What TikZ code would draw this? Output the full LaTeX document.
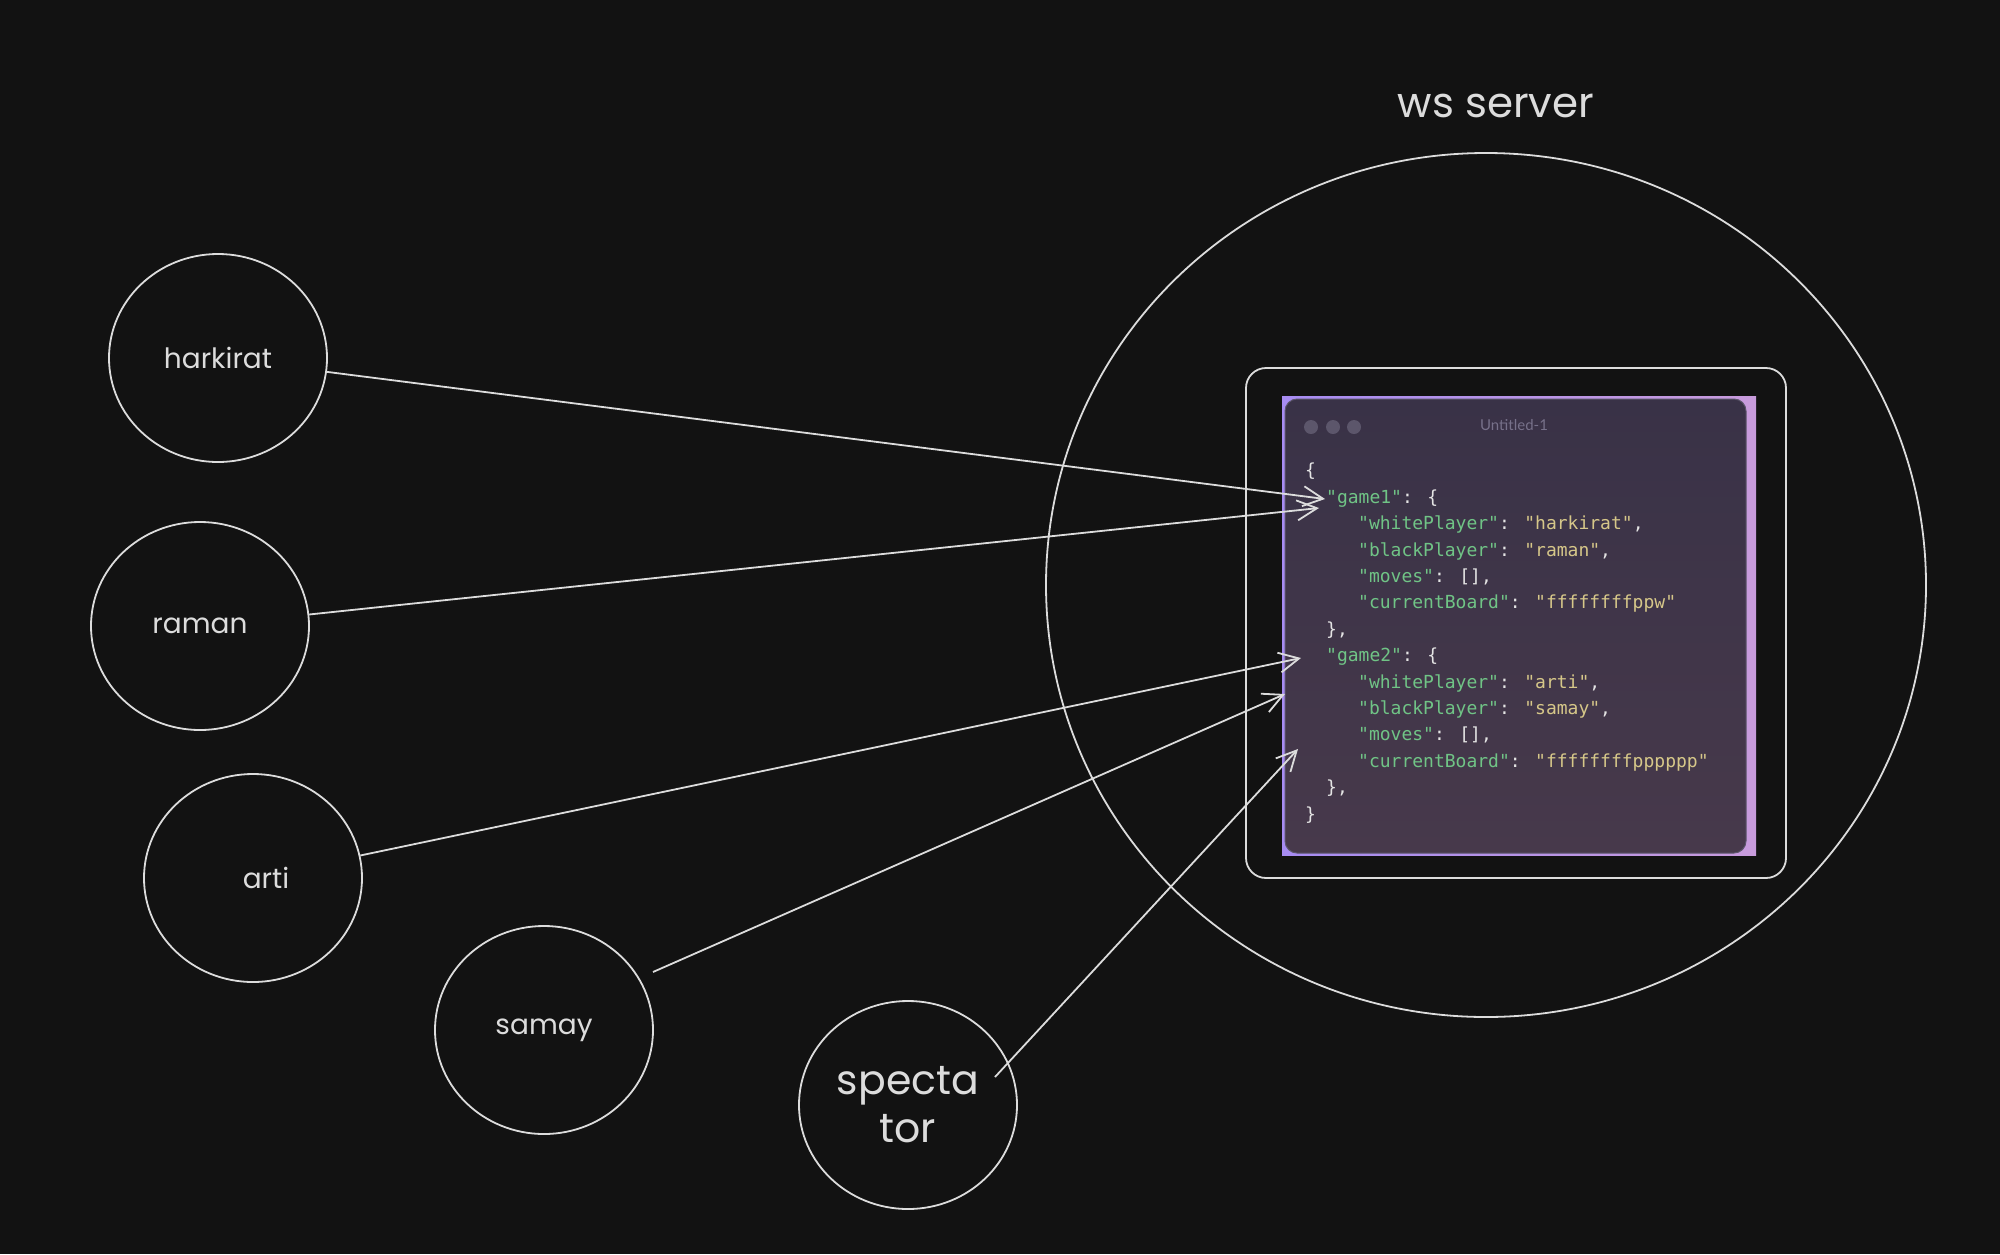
\documentclass[tikz,border=0pt]{standalone}
\usepackage{fontspec}
\usetikzlibrary{arrows.meta,positioning,shapes.geometric}
\setmainfont{Poppins}
\newfontfamily\codefont{DejaVu Sans Mono}
\newfontfamily\uifont{Lato}
\definecolor{bgdark}{HTML}{121212}
\definecolor{inkwhite}{HTML}{DCDCDC}
\definecolor{codegreen}{RGB}{112,196,134}
\definecolor{codetan}{RGB}{214,199,137}
\definecolor{codepunct}{HTML}{E4E4E4}
\definecolor{panelA}{HTML}{393247}
\definecolor{panelB}{HTML}{47394B}
\definecolor{lilacA}{HTML}{A78CF2}
\definecolor{lilacB}{HTML}{C89BDC}
\definecolor{dotgray}{HTML}{5C566B}
\definecolor{titlegray}{HTML}{77718A}
\newcommand\ky[1]{\textcolor{codegreen}{"#1"}}
\newcommand\sv[1]{\textcolor{codetan}{"#1"}}
\newcommand\ind[1]{\hspace*{#1pt}}

\begin{document}
\begin{tikzpicture}[x=1pt,y=-1pt,
  player/.style={draw=inkwhite, line width=1.8pt, ellipse, inner sep=0pt,
    minimum width=218pt, minimum height=208pt, text=inkwhite,
    font=\fontsize{28}{32}\selectfont},
  arr/.style={-{Straight Barb[length=20pt,width=20pt]}, line width=1.8pt, inkwhite}]
\fill[bgdark] (0,0) rectangle (2000,1254);
\useasboundingbox (0,0) rectangle (2000,1254);
% Server
\node[draw=inkwhite, line width=1.8pt, ellipse, minimum width=880pt,
  minimum height=864pt] (server) at (1486,585) {};
\node[text=inkwhite, font=\fontsize{42}{48}\selectfont] (wslabel) at (1496,106) {ws server};
\node[draw=inkwhite, line width=1.8pt, rounded corners=20pt,
  minimum width=540pt, minimum height=510pt] (frame) at (1516,623) {};
% Editor window
\node[left color=lilacA, right color=lilacB, minimum width=474pt,
  minimum height=459pt, inner sep=0pt] (lilac) at (1519,625.5) {};
\node[top color=panelA, bottom color=panelB, draw=dotgray, line width=1pt,
  rounded corners=12pt, minimum width=461pt, minimum height=454pt,
  inner sep=0pt] (panel) at (1515.5,626) {};
\foreach \i/\x in {1/1311,2/1333,3/1354}
  \node[circle, fill=dotgray, minimum size=14pt, inner sep=0pt] (dot\i) at (\x,427) {};
\node[text=titlegray, font=\uifont\fontsize{15}{17}\selectfont] (title) at (1514,425) {Untitled-1};
\node[anchor=north west, inner sep=0pt, align=left, text=codepunct,
  font=\codefont\fontsize{18}{26.4}\selectfont] (code) at (1305,463) {%
  \{\\
  \ind{21}\ky{game1}: \{\\
  \ind{53}\ky{whitePlayer}: \sv{harkirat},\\
  \ind{53}\ky{blackPlayer}: \sv{raman},\\
  \ind{53}\ky{moves}: [],\\
  \ind{53}\ky{currentBoard}: \sv{ffffffffppw}\\
  \ind{21}\},\\
  \ind{21}\ky{game2}: \{\\
  \ind{53}\ky{whitePlayer}: \sv{arti},\\
  \ind{53}\ky{blackPlayer}: \sv{samay},\\
  \ind{53}\ky{moves}: [],\\
  \ind{53}\ky{currentBoard}: \sv{ffffffffpppppp}\\
  \ind{21}\},\\
  \}};
% Players
\node[player] (harkirat) at (218,358) {harkirat};
\node[player] (raman) at (200,626) {raman};
\node[player] (arti) at (253,878) {\hspace*{26pt}arti};
\node[player] (samay) at (544,1030) {samay};
\node[player, align=center, font=\fontsize{41}{48}\selectfont] (spectator) at (908,1105) {specta\\tor};
% Arrow tips
\coordinate (g1tipA) at (1325,499);
\coordinate (g1tipB) at (1319,508);
\coordinate (g2tipA) at (1301,658);
\coordinate (g2tipB) at (1285,694);
\coordinate (g2tipC) at (1298,749);
\coordinate (samaytail) at ([shift={(109,-58)}]samay.center);
\coordinate (spectail) at ([shift={(87,-28)}]spectator.center);
\draw[arr] (harkirat) -- (g1tipA);
\draw[arr] (raman) -- (g1tipB);
\draw[arr] (arti) -- (g2tipA);
\draw[arr] (samaytail) -- (g2tipB);
\draw[arr] (spectail) -- (g2tipC);
\end{tikzpicture}
\end{document}
